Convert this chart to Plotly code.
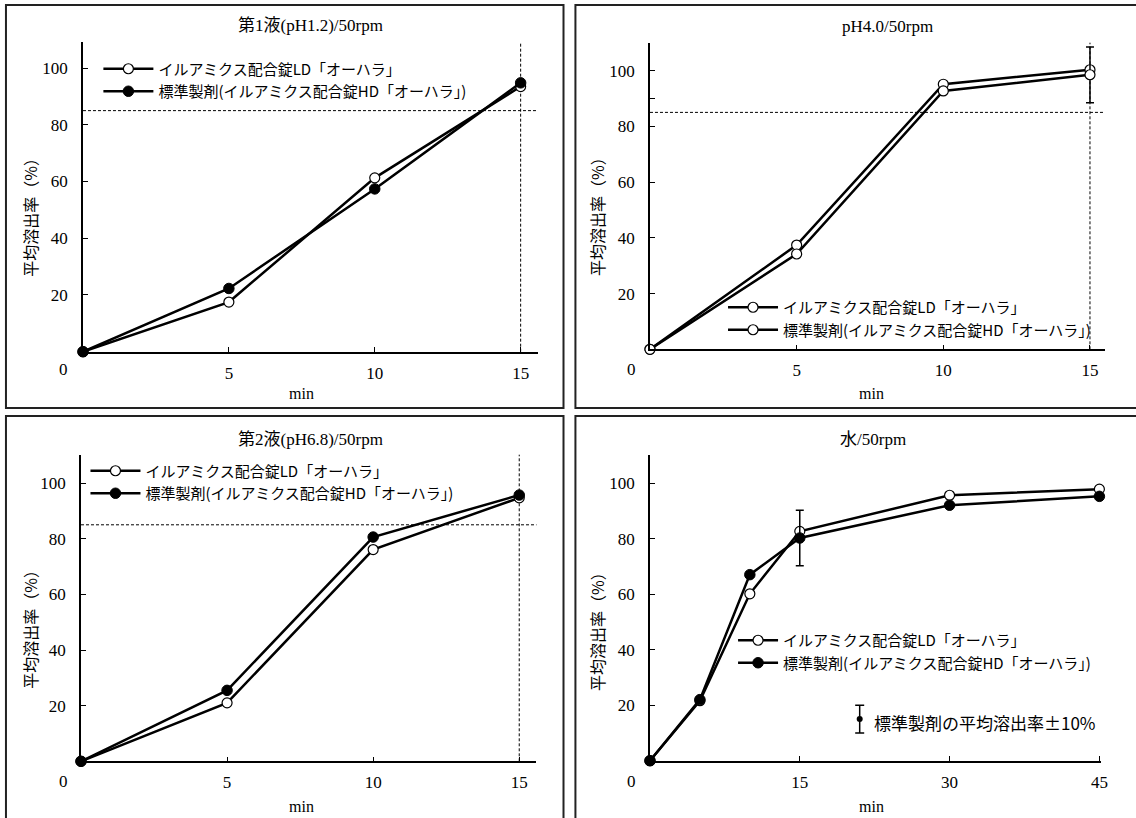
import plotly.graph_objects as go

W, H = 1136, 818

# ---------------- data ----------------
TIME_A = [0, 5, 10, 15]
TIME_W = [0, 5, 10, 15, 30, 45]

LD_PH12 = [0, 17.5, 61.3, 93.5]
HD_PH12 = [0, 22.3, 57.4, 94.8]

LD_PH40 = [0, 37.4, 95.1, 100.3]
HD_PH40 = [0, 34.2, 92.7, 98.5]
ERR_PH40 = [None, None, None, 10]

LD_PH68 = [0, 21.0, 76.1, 94.7]
HD_PH68 = [0, 25.5, 80.6, 95.7]

LD_WATER = [0, 21.6, 60.1, 82.6, 95.6, 97.8]
HD_WATER = [0, 22.0, 67.0, 80.2, 92.0, 95.2]
ERR_WATER = [None, None, None, 10, None, None]

X_TICKS_A = [5, 10, 15]
X_TICKS_W = [15, 30, 45]
Y_TICKS = [20, 40, 60, 80, 100]
Y_TICKS_PH40 = [20, 40, 60, 80, 90, 100]
Y_TEXT_PH40 = ["20", "40", "60", "80", "", "100"]

REF_Y = 85
REF_X = 15

NAME_LD = "イルアミクス配合錠LD「オーハラ」"
NAME_HD = "標準製剤(イルアミクス配合錠HD「オーハラ」)"
TITLES = ["第1液(pH1.2)/50rpm", "pH4.0/50rpm", "第2液(pH6.8)/50rpm", "水/50rpm"]
X_TITLE = "min"
Y_TITLE = "平均溶出率（%）"
KEY_TEXT = "標準製剤の平均溶出率±10%"
KEY_X, KEY_Y, KEY_ERR = 21.0, 15.0, 5

# ---------------- helpers ----------------
def px(x):
    return x / W

def py(y):
    return 1 - y / H

SERIF = "Liberation Serif, Noto Sans CJK JP"
CJK = "Noto Sans CJK JP"

panels = [
    dict(xd=(83.5, 540.9), yd=(42, 351.7), xmax=15.58, ymax=109.2,
         x=TIME_A, ld=LD_PH12, hd=HD_PH12, err=None, hd_open=False,
         xt=X_TICKS_A, yt=Y_TICKS, ytt=None, ref=True,
         leg=(99, 52.5), iw=50, title=(312.6, 26), xtl=(303.5, 393),
         ytl=(30, 213), zero=(63.6, 370), box=(6, 5, 567, 408)),
    dict(xd=(654, 1111.5), yd=(42.7, 349.3), xmax=15.5, ymax=110,
         x=TIME_A, ld=LD_PH40, hd=HD_PH40, err=ERR_PH40, hd_open=True,
         xt=X_TICKS_A, yt=Y_TICKS_PH40, ytt=Y_TEXT_PH40, ref=True,
         leg=(727.5, 291), iw=50, title=(893, 26.7), xtl=(876.9, 393),
         ytl=(600.7, 212), zero=(635, 370), box=(579, 5, 1145, 408)),
    dict(xd=(81.5, 539.8), yd=(454.7, 761.3), xmax=15.59, ymax=110.2,
         x=TIME_A, ld=LD_PH68, hd=HD_PH68, err=None, hd_open=False,
         xt=X_TICKS_A, yt=Y_TICKS, ytt=None, ref=True,
         leg=(86, 454.5), iw=50, title=(312.6, 439.7), xtl=(303.5, 806),
         ytl=(30, 625), zero=(63.6, 781), box=(6, 416, 567, 830)),
    dict(xd=(654, 1107.9), yd=(454.7, 760.7), xmax=45.17, ymax=110.2,
         x=TIME_W, ld=LD_WATER, hd=HD_WATER, err=ERR_WATER, hd_open=False,
         xt=X_TICKS_W, yt=Y_TICKS, ytt=None, ref=False,
         leg=(737.6, 624), iw=40, title=(878.7, 439.7), xtl=(876.9, 806),
         ytl=(600.7, 627), zero=(635, 781), box=(579, 416, 1145, 830)),
]

fig = go.Figure()
layout = dict(width=W, height=H, margin=dict(l=0, r=0, t=0, b=0),
              paper_bgcolor="white", plot_bgcolor="white", showlegend=True)
annotations = []
shapes = []

open_marker = dict(symbol="circle", size=10, color="white",
                   line=dict(color="black", width=1.2))
filled_marker = dict(symbol="circle", size=10.5, color="black",
                     line=dict(color="black", width=1))

for i, p in enumerate(panels):
    n = "" if i == 0 else str(i + 1)
    xa, ya = "x" + n, "y" + n
    leg = "legend" + n

    layout["xaxis" + n] = dict(
        domain=[px(p["xd"][0]), px(p["xd"][1])], anchor=ya,
        range=[0, p["xmax"]], showgrid=False, zeroline=False,
        showline=True, linecolor="black", linewidth=1.5,
        ticks="inside", ticklen=5, tickwidth=1.2, tickcolor="black",
        tickvals=p["xt"], tickfont=dict(family=SERIF, size=17, color="black"),
        ticklabelstandoff=5, fixedrange=True)
    ydict = dict(
        domain=[py(p["yd"][1]), py(p["yd"][0])], anchor=xa,
        range=[0, p["ymax"]], showgrid=False, zeroline=False,
        showline=True, linecolor="black", linewidth=1.5,
        ticks="inside", ticklen=5, tickwidth=1.2, tickcolor="black",
        tickvals=p["yt"], tickfont=dict(family=SERIF, size=17, color="black"),
        ticklabelstandoff=10, fixedrange=True)
    if p["ytt"] is not None:
        ydict["ticktext"] = p["ytt"]
    layout["yaxis" + n] = ydict

    layout[leg] = dict(
        x=px(p["leg"][0]), y=py(p["leg"][1]), xanchor="left", yanchor="top",
        bgcolor="rgba(0,0,0,0)", borderwidth=0, itemwidth=p["iw"],
        font=dict(family=CJK, size=15, color="black"), traceorder="normal")

    if p["ref"]:
        shapes.append(dict(type="line", xref=xa + " domain", yref=ya,
                           x0=0, x1=1, y0=REF_Y, y1=REF_Y, layer="below",
                           line=dict(color="black", width=1, dash="3px,2px")))
        shapes.append(dict(type="line", xref=xa, yref=ya + " domain",
                           x0=REF_X, x1=REF_X, y0=0, y1=1, layer="below",
                           line=dict(color="black", width=1, dash="3px,2px")))

    fig.add_trace(go.Scatter(
        x=p["x"], y=p["ld"], name=NAME_LD, mode="lines+markers",
        line=dict(color="black", width=2.5), marker=open_marker,
        xaxis=xa, yaxis=ya, legend=leg, cliponaxis=False))
    hd_kwargs = {}
    if p["err"] is not None:
        hd_kwargs["error_y"] = dict(type="data", array=p["err"], visible=True,
                                    color="black", thickness=1.5, width=4)
    fig.add_trace(go.Scatter(
        x=p["x"], y=p["hd"], name=NAME_HD, mode="lines+markers",
        line=dict(color="black", width=2.5),
        marker=open_marker if p["hd_open"] else filled_marker,
        xaxis=xa, yaxis=ya, legend=leg, cliponaxis=False, **hd_kwargs))

    # texts
    annotations.append(dict(text=TITLES[i], x=px(p["title"][0]), y=py(p["title"][1]),
                            xref="paper", yref="paper", showarrow=False,
                            xanchor="center", yanchor="middle",
                            font=dict(family=SERIF, size=17, color="black")))
    annotations.append(dict(text=X_TITLE, x=px(p["xtl"][0]), y=py(p["xtl"][1]),
                            xref="paper", yref="paper", showarrow=False,
                            xanchor="center", yanchor="middle",
                            font=dict(family=SERIF, size=16, color="black")))
    annotations.append(dict(text=Y_TITLE, x=px(p["ytl"][0]), y=py(p["ytl"][1]),
                            xref="paper", yref="paper", showarrow=False,
                            xanchor="center", yanchor="middle", textangle=-90,
                            font=dict(family=CJK, size=16, color="black")))
    annotations.append(dict(text="0", x=px(p["zero"][0]), y=py(p["zero"][1]),
                            xref="paper", yref="paper", showarrow=False,
                            xanchor="center", yanchor="middle",
                            font=dict(family=SERIF, size=17, color="black")))
    bx = p["box"]
    shapes.append(dict(type="rect", xref="paper", yref="paper",
                       x0=px(bx[0]), x1=px(bx[2]), y0=py(bx[3]), y1=py(bx[1]),
                       line=dict(color="#222222", width=2), layer="below"))

# key for the error bars (water panel)
fig.add_trace(go.Scatter(
    x=[KEY_X], y=[KEY_Y], mode="markers", showlegend=False,
    marker=dict(symbol="circle", size=6, color="black"),
    error_y=dict(type="data", array=[KEY_ERR], visible=True, color="black",
                 thickness=1.5, width=4.5),
    xaxis="x4", yaxis="y4", cliponaxis=False, hoverinfo="skip"))
annotations.append(dict(text=KEY_TEXT, x=KEY_X + 1.2, y=KEY_Y - 1.4,
                        xref="x4", yref="y4", showarrow=False,
                        xanchor="left", yanchor="middle",
                        font=dict(family=CJK, size=17, color="black")))

layout["annotations"] = annotations
layout["shapes"] = shapes
fig.update_layout(**layout)

fig.write_html(
    "out.html",
    config={"displayModeBar": False},
    post_script="document.body.style.margin='0px';document.body.style.overflow='hidden';",
)
